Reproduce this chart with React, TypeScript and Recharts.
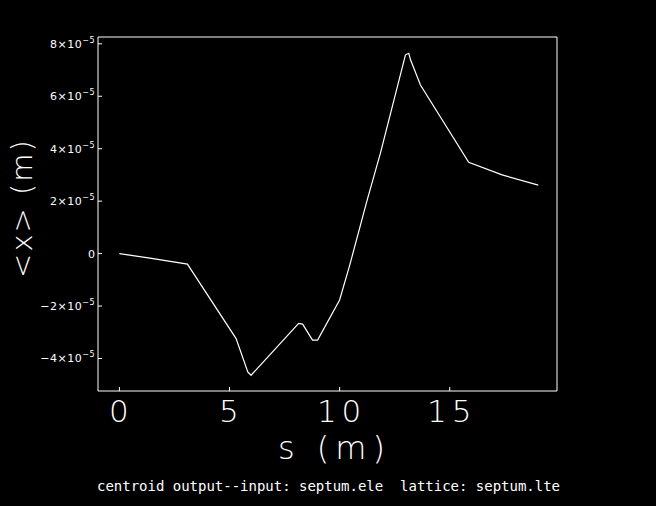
import React from "react";
import { LineChart, Line, XAxis, YAxis, Label } from "recharts";

const sValues = [0, 1.39, 3.09, 5.3, 5.83, 5.98, 8.14, 8.32, 8.77, 9.0, 10.0, 10.45, 11.25, 11.85, 12.99, 13.14, 13.22, 13.67, 15.86, 17.38, 19.02];
const xValues = [0, -0.17e-5, -0.4e-5, -3.24e-5, -4.51e-5, -4.64e-5, -2.66e-5, -2.69e-5, -3.3e-5, -3.3e-5, -1.77e-5, -0.47e-5, 2.04e-5, 3.82e-5, 7.58e-5, 7.64e-5, 7.39e-5, 6.43e-5, 3.48e-5, 3.0e-5, 2.61e-5];
const sTicks = [0, 5, 10, 15];
const xTicks = [-4e-5, -2e-5, 0, 2e-5, 4e-5, 6e-5, 8e-5];
const xLabel = "s (m)";
const yLabel = "<x> (m)";
const title = "centroid output--input: septum.ele  lattice: septum.lte";

const data = sValues.map((s, i) => ({ s, x: xValues[i] }));

const FONT = "'DejaVu Sans', sans-serif";

const XTick = (props: any) => {
  const { x, y, payload } = props;
  return (
    <text x={x + 2} y={y + 35} textAnchor="middle" fill="#fff" fontFamily={FONT} fontWeight={200} fontSize={31} letterSpacing={5}>
      {String(payload.value)}
    </text>
  );
};

const YTick = (props: any) => {
  const { x, y, payload } = props;
  const v = payload.value as number;
  if (Math.abs(v) < 1e-12) {
    return (
      <text x={x} y={y + 4} textAnchor="end" fill="#fff" fontFamily={FONT} fontSize={11}>
        0
      </text>
    );
  }
  const m = Math.round(v / 1e-5);
  const mant = m < 0 ? "\u2212" + Math.abs(m) : String(m);
  return (
    <text x={x} y={y + 4} textAnchor="end" fill="#fff" fontFamily={FONT} fontSize={11} letterSpacing={0.5}>
      {mant + "\u00d710"}
      <tspan dy={-5} fontSize={8}>{"\u22125"}</tspan>
    </text>
  );
};

const XTitle = (props: any) => {
  const vb = props.viewBox;
  return (
    <text x={vb.x + vb.width / 2 + 7} y={vb.y + 68} textAnchor="middle" fill="#fff" fontFamily={FONT} fontWeight={200} fontSize={32} letterSpacing={6}>
      {xLabel}
    </text>
  );
};

const YTitle = (props: any) => {
  const vb = props.viewBox;
  const cx = vb.x + 32;
  const cy = 208;
  return (
    <text x={cx} y={cy} transform={`rotate(-90 ${cx} ${cy})`} textAnchor="middle" fill="#fff" fontFamily={FONT} fontWeight={200} fontSize={29} letterSpacing={2}>
      {yLabel}
    </text>
  );
};

export default function App() {
  return (
    <div style={{ position: "absolute", left: 0, top: 0, width: 656, height: 506, background: "#000" }}>
      <LineChart width={656} height={506} data={data} margin={{ top: 36, right: 98, bottom: 0, left: 0 }}>
        <XAxis
          xAxisId="b"
          dataKey="s"
          type="number"
          domain={[-0.97, 19.87]}
          ticks={sTicks}
          allowDataOverflow
          height={115}
          stroke="#fff"
          tickSize={-4}
          tickMargin={0}
          tick={<XTick />}
          axisLine={{ stroke: "#fff" }}
          tickLine={{ stroke: "#fff" }}
        >
          <Label content={<XTitle />} />
        </XAxis>
        <XAxis
          xAxisId="t"
          orientation="top"
          dataKey="s"
          type="number"
          domain={[-0.97, 19.87]}
          ticks={sTicks}
          allowDataOverflow
          height={1}
          tickSize={-4}
          tick={false}
          axisLine={{ stroke: "#fff" }}
          tickLine={{ stroke: "#fff" }}
        />
        <YAxis
          yAxisId="l"
          type="number"
          domain={[-5.24e-5, 8.26e-5]}
          ticks={xTicks}
          allowDataOverflow
          width={98}
          tickSize={-4}
          tickMargin={7}
          tick={<YTick />}
          axisLine={{ stroke: "#fff" }}
          tickLine={{ stroke: "#fff" }}
        >
          <Label content={<YTitle />} />
        </YAxis>
        <YAxis
          yAxisId="r"
          orientation="right"
          type="number"
          domain={[-5.24e-5, 8.26e-5]}
          ticks={xTicks}
          allowDataOverflow
          width={1}
          tickSize={-4}
          tick={false}
          axisLine={{ stroke: "#fff" }}
          tickLine={{ stroke: "#fff" }}
        />
        <Line xAxisId="b" yAxisId="l" type="linear" dataKey="x" stroke="#fff" strokeWidth={1.2} dot={false} isAnimationActive={false} />
      </LineChart>
      <svg width={656} height={506} style={{ position: "absolute", left: 0, top: 0, pointerEvents: "none" }}>
        <text x={97} y={491} fill="#fff" fontFamily="'DejaVu Sans Mono', monospace" fontSize={14} textLength={463} lengthAdjust="spacing" style={{ whiteSpace: "pre" }}>
          {title}
        </text>
      </svg>
    </div>
  );
}
